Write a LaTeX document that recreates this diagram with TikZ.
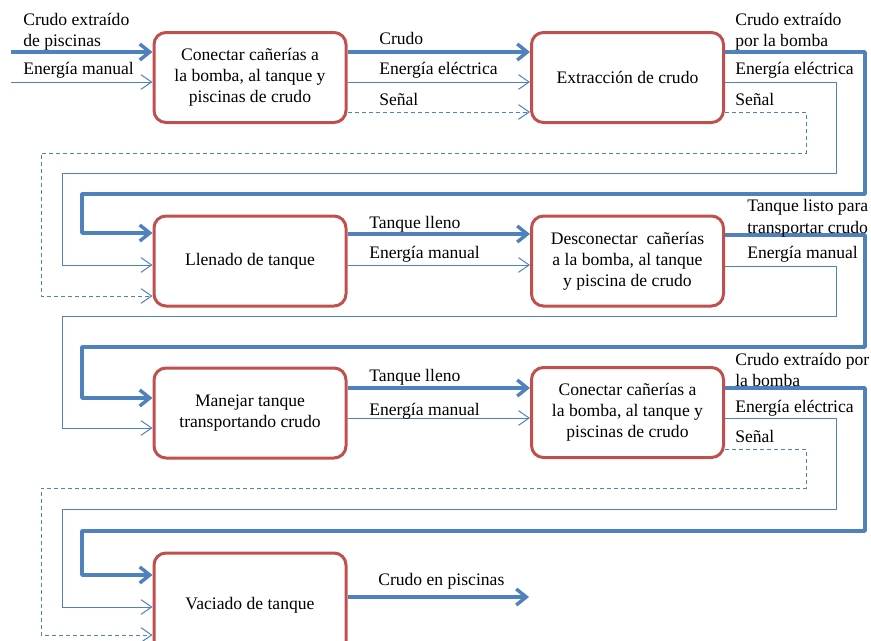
\documentclass[tikz,border=0pt]{standalone}
\usepackage{fontspec}
\setmainfont{Liberation Serif}
\usetikzlibrary{arrows.meta}
\definecolor{lblue}{RGB}{79,129,189}
\definecolor{bred}{RGB}{192,80,77}
\begin{document}
\begin{tikzpicture}[x=0.75pt,y=-0.75pt,
  font=\fontsize{13.2pt}{15.75pt}\selectfont,
  proc/.style={draw=bred, line width=2.25pt, rounded corners=9pt, fill=white,
    minimum width=144pt, minimum height=67.5pt, align=center, inner sep=0pt},
  heavy/.style={draw=lblue, line width=2.6pt, line join=round,
    -{Straight Barb[length=7.5pt,width=12pt]}},
  light/.style={draw=lblue, line width=0.75pt,
    -{Straight Barb[length=8pt,width=11pt]}},
  sig/.style={light, dash pattern=on 3pt off 2.25pt},
  lbl/.style={anchor=base west, inner sep=0pt}
]
\useasboundingbox (0,0) rectangle (871,640);

% process boxes
\node[proc] (A) at (250,77.5) {Conectar cañerías a\\la bomba, al tanque y\\piscinas de crudo};
\node[proc] (B) at (627.5,77.5) {Extracción de crudo};
\node[proc] (C) at (250,261) {Llenado de tanque};
\node[proc] (D) at (627.5,261) {Desconectar\ \ cañerías\\a la bomba, al tanque\\y piscina de crudo};
\node[proc] (E) at (250,413) {Manejar tanque\\transportando crudo};
\node[proc] (F) at (627.5,412.5) {Conectar cañerías a\\la bomba, al tanque y\\piscinas de crudo};
\node[proc, minimum height=78pt] (G) at (250,605) {Vaciado de tanque};

% free ends
\coordinate (inA1) at (11,52);
\coordinate (inA2) at (11,82);
\coordinate (outG) at (529,597);

% inputs of A
\draw[heavy] (inA1) -- (A.west |- inA1);
\draw[light] (inA2) -- (A.west |- inA2);

% A -> B
\draw[heavy] (A.east |- 0,52) -- (B.west |- 0,52);
\draw[light] (A.east |- 0,82) -- (B.west |- 0,82);
\draw[sig] (A.east |- 0,112) -- (B.west |- 0,112);

% B -> C
\draw[heavy] (B.east |- 0,52) -| (865,194) -| (82,233) -- (C.west |- 0,233);
\draw[light] (B.east |- 0,82) -| (836,173) -| (62,265) -- (C.west |- 0,265);
\draw[sig] (B.east |- 0,112) -| (806,153) -| (41,296) -- (C.west |- 0,296);

% C -> D
\draw[heavy] (C.east |- 0,234) -- (D.west |- 0,234);
\draw[light] (C.east |- 0,265) -- (D.west |- 0,265);

% D -> E
\draw[heavy] (D.east |- 0,235) -| (865,347) -| (82,398) -- (E.west |- 0,398);
\draw[light] (D.east |- 0,266) -| (836,316) -| (62,428) -- (E.west |- 0,428);

% E -> F
\draw[heavy] (E.east |- 0,388) -- (F.west |- 0,388);
\draw[light] (E.east |- 0,418) -- (F.west |- 0,418);

% F -> G
\draw[heavy] (F.east |- 0,388) -| (865,531) -| (82,575) -- (G.west |- 0,575);
\draw[light] (F.east |- 0,418) -| (836,509) -| (62,607) -- (G.west |- 0,607);
\draw[sig] (F.east |- 0,449) -| (806,488) -| (41,635) -- (G.west |- 0,635);

% G output
\draw[heavy] (G.east |- outG) -- (outG);

% labels
\node[lbl] (la1) at (23,25) {Crudo extraído};
\node[lbl] (la2) at (23,46) {de piscinas};
\node[lbl] (la3) at (23,74) {Energía manual};
\node[lbl] (lb1) at (379,44) {Crudo};
\node[lbl] (lb2) at (379,74) {Energía eléctrica};
\node[lbl] (lb3) at (379,105) {Señal};
\node[lbl] (lc1) at (735,25) {Crudo extraído};
\node[lbl] (lc2) at (735,46) {por la bomba};
\node[lbl] (lc3) at (735,74) {Energía eléctrica};
\node[lbl] (lc4) at (735,105) {Señal};
\node[lbl] (ld1) at (369,228) {Tanque lleno};
\node[lbl] (ld2) at (369,258) {Energía manual};
\node[lbl] (le1) at (747,211) {Tanque listo para};
\node[lbl] (le2) at (747,233) {transportar crudo};
\node[lbl] (le3) at (747,258) {Energía manual};
\node[lbl] (lf1) at (369,381) {Tanque lleno};
\node[lbl] (lf2) at (369,415) {Energía manual};
\node[lbl] (lg1) at (735,365) {Crudo extraído por};
\node[lbl] (lg2) at (735,386) {la bomba};
\node[lbl] (lg3) at (735,412) {Energía eléctrica};
\node[lbl] (lg4) at (735,442) {Señal};
\node[lbl] (lh1) at (378,585) {Crudo en piscinas};
\end{tikzpicture}
\end{document}
